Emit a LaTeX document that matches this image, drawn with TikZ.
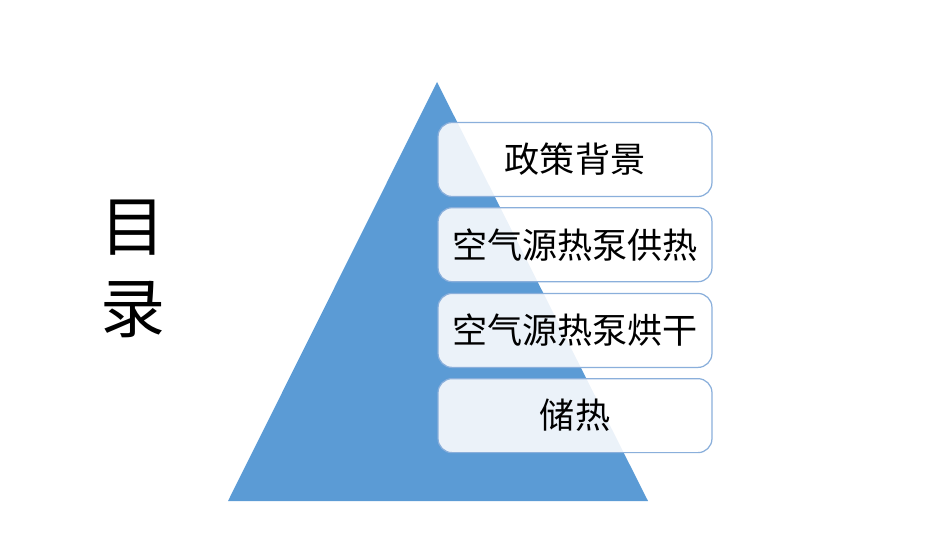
\documentclass[tikz,border=0pt]{standalone}
\usepackage{fontspec}
\setmainfont{Noto Sans CJK SC}
\usetikzlibrary{positioning}
\definecolor{pyrblue}{HTML}{5B9BD5}
\definecolor{boxline}{HTML}{8AAFDB}
\tikzset{
  itembox/.style={draw=boxline, line width=0.7pt, fill=white, fill opacity=0.88, text opacity=1,
    rounded corners=8pt, minimum width=5.48cm, minimum height=1.48cm, inner sep=0pt,
    font=\fontsize{20}{24}\selectfont},
  titlechar/.style={inner sep=0pt, font=\fontsize{37}{40}\selectfont},
}
\begin{document}
\begin{tikzpicture}[x=0.02cm, y=0.02cm]
  \useasboundingbox (0,0) rectangle (950,535);
  % 金字塔
  \fill[pyrblue] (228,34) -- (437,453) -- (648,34) -- cycle;
  % 标题
  \node[titlechar] (title1) at (133,307) {目};
  \node[titlechar] (title2) at (133,225) {录};
  % 目录条目
  \node[itembox] (policy) at (575,375.5) {政策背景};
  \node[itembox, below=0.2cm of policy] (heating) {空气源热泵供热};
  \node[itembox, below=0.21cm of heating] (drying) {空气源热泵烘干};
  \node[itembox, below=0.2cm of drying] (storage) {储热};
\end{tikzpicture}
\end{document}
